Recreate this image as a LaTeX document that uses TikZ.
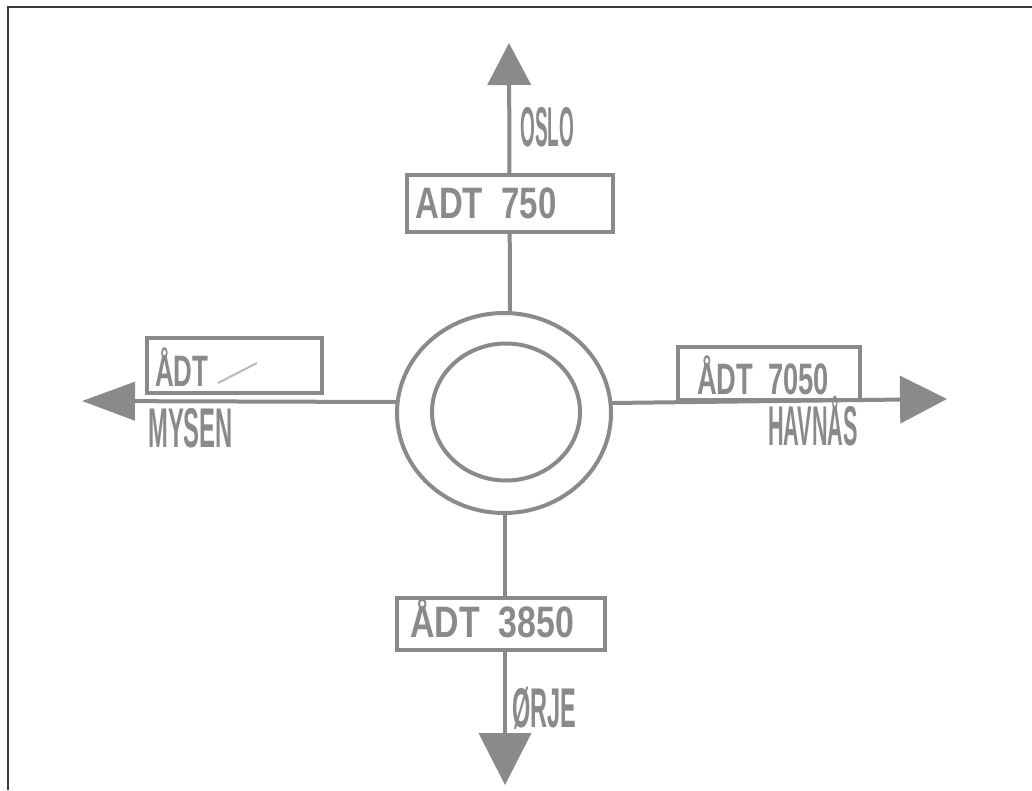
\documentclass[tikz,border=0pt]{standalone}
\usepackage{fontspec}
\setmainfont{Liberation Sans}
\usetikzlibrary{arrows.meta,shapes.geometric}
\definecolor{pencil}{HTML}{8A8A8A}
\definecolor{frame}{HTML}{3A3A3A}
\begin{document}
\begin{tikzpicture}[x=1pt,y=-1pt,
  road/.style={draw=pencil, line width=4pt},
  ring/.style={draw=pencil, line width=4pt, ellipse, inner sep=0pt},
  signbox/.style={draw=pencil, fill=white, line width=3.5pt, rectangle, inner sep=0pt},
  lbl/.style={text=pencil, inner sep=0pt, anchor=base west, font=\fontsize{44}{44}\selectfont\bfseries},
  place/.style={text=pencil, inner sep=0pt, anchor=base west, font=\fontsize{56}{56}\selectfont\bfseries}]
\useasboundingbox (0,0) rectangle (1032,790);
\fill[white] (0,0) rectangle (1032,790);
% frame edges
\coordinate (f0) at (8,7);
\coordinate (f1) at (1032,7);
\coordinate (f2) at (8,790);
\draw[frame, line width=2pt] (f1) -- (f0) -- (f2);
% roundabout
\node[ring, minimum width=214pt, minimum height=200pt] (outer) at (504,413) {};
\node[ring, minimum width=148pt, minimum height=137pt] (inner) at (506,412) {};
% arrow tips
\coordinate (ntip) at (509,43);
\coordinate (stip) at (505,785);
\coordinate (wtip) at (82,401);
\coordinate (etip) at (947,399);
\coordinate (nstart) at (510,313);
\coordinate (sstart) at (505,513);
\coordinate (wstart) at (397,402);
\coordinate (estart) at (611,403);
\draw[road, -{Triangle[length=42pt,width=43pt]}, pencil] (nstart) -- (ntip);
\draw[road, -{Triangle[length=52pt,width=52pt]}, pencil] (sstart) -- (stip);
\draw[road, -{Triangle[length=53pt,width=38pt]}, pencil] (wstart) -- (wtip);
\draw[road, -{Triangle[length=47pt,width=47pt]}, pencil] (estart) -- (etip);
% signs
\node[signbox, minimum width=206pt, minimum height=57pt] (nbox) at (510,203.5) {};
\node[signbox, minimum width=208pt, minimum height=52pt] (sbox) at (501,624) {};
\node[signbox, minimum width=175pt, minimum height=55pt] (wbox) at (234.5,365.5) {};
\node[signbox, minimum width=182pt, minimum height=53pt] (ebox) at (769,373.5) {};
% sign texts
\node[lbl] (ntext) at (415,218) {\scalebox{0.75}[1]{ADT\ \ 750}};
\node[lbl] (stext) at (410,637) {\scalebox{0.77}[1]{ÅDT\ \ 3850}};
\node[lbl] (etext) at (697,394) {\scalebox{0.62}[1]{ÅDT\ \ 7050}};
\node[lbl] (wtext) at (155,386) {\scalebox{0.59}[1]{ÅDT}};
\coordinate (sl0) at (218,383);
\coordinate (sl1) at (257,363);
\draw[pencil!60, line width=2pt] (sl0) -- (sl1);
% place names
\node[place] (oslo) at (520,146) {\scalebox{0.34}[1]{OSLO}};
\node[place] (mysen) at (148,447) {\scalebox{0.425}[1]{MYSEN}};
\node[place] (havnas) at (768,445) {\scalebox{0.386}[1]{HAVNÅS}};
\node[place] (orje) at (512,727) {\scalebox{0.42}[1]{ØRJE}};
\end{tikzpicture}
\end{document}
